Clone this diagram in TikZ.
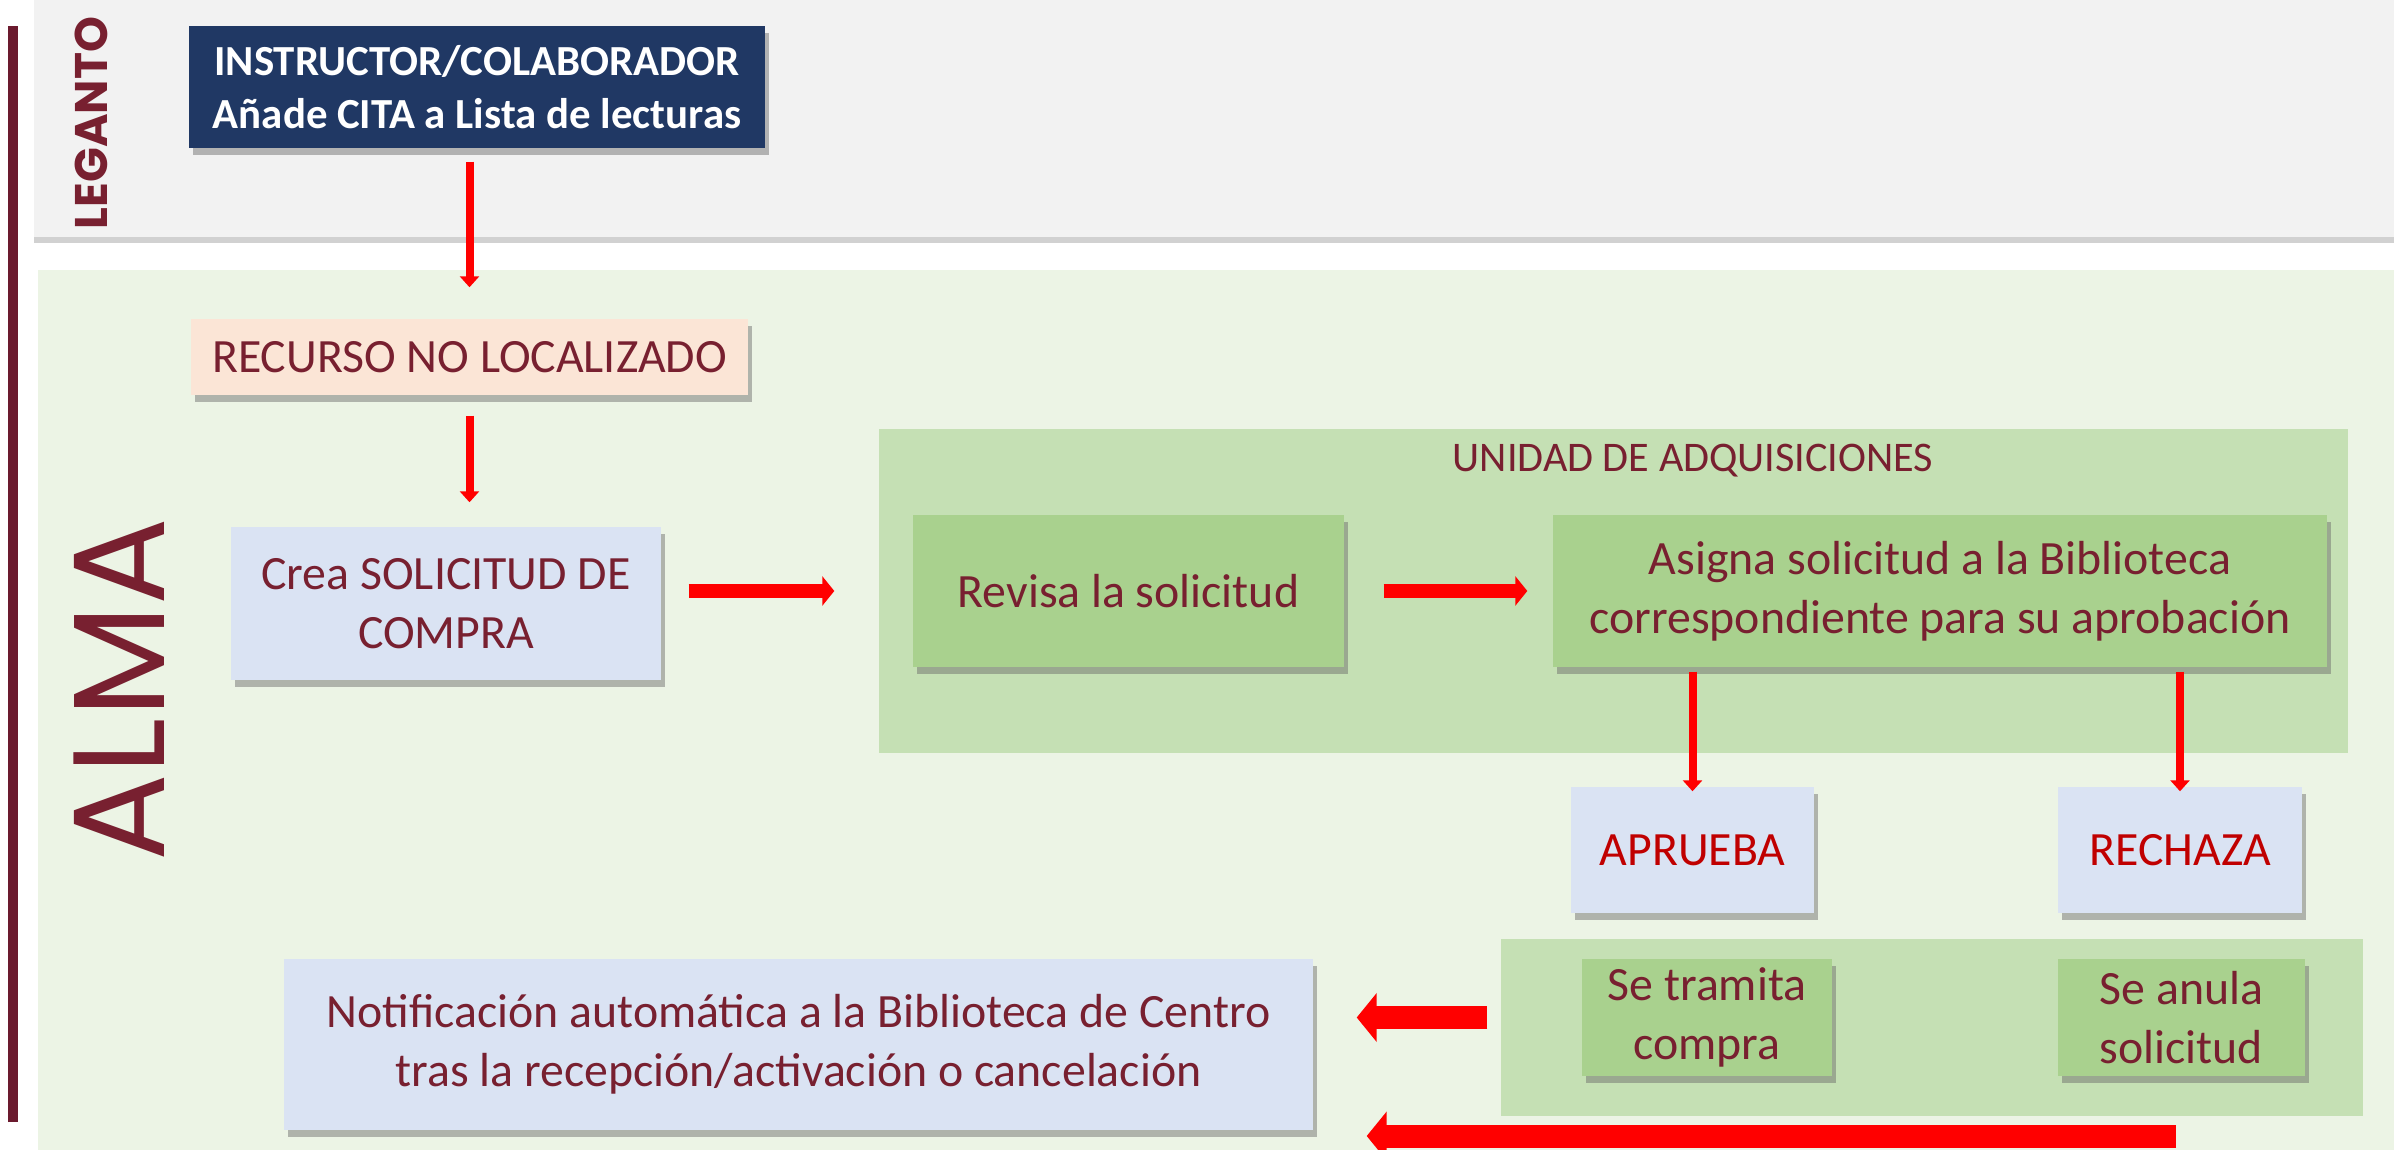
\documentclass[tikz,border=0pt]{standalone}
\usepackage{fontspec}
\setmainfont{Carlito}
\newfontfamily\almafont{Poppins}
\usepackage{tikz}
\usetikzlibrary{shapes.geometric, arrows, arrows.meta, shadows}
\usepackage{xcolor}

\begin{document}
\begin{tikzpicture}[
    caja/.style={align=center, text=granate, inner sep=0pt, font=\fontsize{13.6}{16.8}\selectfont,
        drop shadow={shadow xshift=0.04cm, shadow yshift=-0.07cm, fill=black!60, opacity=0.45}},
    panel/.style={fill=verdepanel, inner sep=0pt},
    flechafina/.style={-{Triangle[width=0.19cm, length=0.11cm]}, line width=0.08cm, color=rojo},
    flechamedia/.style={-{Triangle[width=0.29cm, length=0.12cm]}, line width=0.14cm, color=rojo},
    flechagruesa/.style={-{Triangle[width=0.48cm, length=0.2cm]}, line width=0.23cm, color=rojo}
]
        % Define colors for text, boxes and bands
        \definecolor{granate}{RGB}{120, 32, 48}     % Text color
        \definecolor{linea}{RGB}{107, 26, 46}       % Left bar
        \definecolor{marino}{RGB}{32, 56, 100}      % Leganto box
        \definecolor{melocoton}{RGB}{251, 229, 214} % Recurso box
        \definecolor{azulclaro}{RGB}{218, 227, 243} % Light blue boxes
        \definecolor{verdepanel}{RGB}{197, 224, 180} % Panels
        \definecolor{verdecaja}{RGB}{169, 209, 142} % Green boxes
        \definecolor{verdefondo}{RGB}{236, 244, 229} % Alma band
        \definecolor{gris}{RGB}{242, 242, 242}      % Leganto band
        \definecolor{rojo}{RGB}{255, 0, 0}          % Arrows
        \definecolor{rojotexto}{RGB}{192, 0, 0}     % Aprueba / Rechaza

        \useasboundingbox (0,0) rectangle (23.94,11.49);

        % Draw the two bands and the left bar
        \path[fill=gris, drop shadow={shadow xshift=0cm, shadow yshift=-0.06cm, fill=black!60, opacity=0.3}] (0.34,9.12) rectangle (23.94,11.6);
        \fill[verdefondo] (0.38,-0.1) rectangle (23.94,8.79);
        \draw[line width=0.1cm, color=linea] (0.13,0.27) -- (0.13,11.23);

        % Band labels
        \node[rotate=90, text=granate, font=\almafont\bfseries\fontsize{13}{13}\selectfont] (leganto) at (0.91,10.26) {LEGANTO};
        \node[rotate=90, text=granate, font=\almafont\fontsize{37}{37}\selectfont] (alma) at (1.19,4.59) {ALMA};

        % Draw the Leganto box
        \node[caja, fill=marino, text=white, font=\bfseries\fontsize{12.2}{15}\selectfont, minimum width=5.76cm, minimum height=1.22cm] (instructor) at (4.77,10.62) {INSTRUCTOR/COLABORADOR\\Añade CITA a Lista de lecturas};

        % Draw the first Alma boxes
        \node[caja, fill=melocoton, minimum width=5.57cm, minimum height=0.76cm] (recurso) at (4.695,7.92) {RECURSO NO LOCALIZADO};
        \node[caja, fill=azulclaro, minimum width=4.30cm, minimum height=1.53cm] (crea) at (4.46,5.455) {Crea SOLICITUD DE\\COMPRA};

        % Draw the acquisitions panel and its boxes
        \node[panel, minimum width=14.69cm, minimum height=3.24cm] (adquisiciones) at (16.135,5.58) {};
        \node[text=granate, font=\fontsize{12}{14}\selectfont] (unidad) at (16.93,6.88) {UNIDAD DE ADQUISICIONES};
        \node[caja, fill=verdecaja, minimum width=4.31cm, minimum height=1.52cm] (revisa) at (11.285,5.58) {Revisa la solicitud};
        \node[caja, fill=verdecaja, minimum width=7.74cm, minimum height=1.52cm] (asigna) at (19.40,5.58) {Asigna solicitud a la Biblioteca\\correspondiente para su aprobación};

        % Draw the decision boxes
        \node[caja, fill=azulclaro, text=rojotexto, minimum width=2.43cm, minimum height=1.26cm] (aprueba) at (16.925,2.99) {APRUEBA};
        \node[caja, fill=azulclaro, text=rojotexto, minimum width=2.44cm, minimum height=1.26cm] (rechaza) at (21.80,2.99) {RECHAZA};

        % Draw the lower panel and its boxes
        \node[panel, minimum width=8.62cm, minimum height=1.77cm] (tramite) at (19.32,1.215) {};
        \node[caja, fill=verdecaja, minimum width=2.50cm, minimum height=1.17cm] (tramita) at (17.07,1.315) {Se tramita\\compra};
        \node[caja, fill=verdecaja, minimum width=2.47cm, minimum height=1.17cm] (anula) at (21.815,1.315) {Se anula\\solicitud};

        % Draw the notification box
        \node[caja, fill=azulclaro, minimum width=10.29cm, minimum height=1.71cm] (notif) at (7.985,1.045) {Notificación automática a la Biblioteca de Centro\\tras la recepción/activación o cancelación};
        \coordinate (retorno) at (21.76,0.13);

        % Draw the arrows
        \draw[flechafina, shorten <=0.13cm, shorten >=0.31cm] (instructor.south -| recurso.north) -- (recurso.north);
        \draw[flechafina, shorten <=0.20cm, shorten >=0.24cm] (recurso.south) -- (recurso.south |- crea.north);
        \draw[flechamedia, shorten <=0.27cm, shorten >=0.78cm] (crea.east |- revisa.west) -- (revisa.west);
        \draw[flechamedia, shorten <=0.39cm, shorten >=0.25cm] (revisa.east) -- (asigna.west);
        \draw[flechafina, shorten <=0.04cm, shorten >=-0.05cm] (asigna.south -| aprueba.north) -- (aprueba.north);
        \draw[flechafina, shorten <=0.04cm, shorten >=-0.05cm] (asigna.south -| rechaza.north) -- (rechaza.north);
        \draw[flechagruesa, shorten <=0.13cm, shorten >=0.43cm] (tramite.west |- tramita) -- (notif.east |- tramita);
        \draw[flechagruesa, shorten >=0.53cm] (retorno) -- (retorno -| notif.east);

    \end{tikzpicture}
\end{document}
